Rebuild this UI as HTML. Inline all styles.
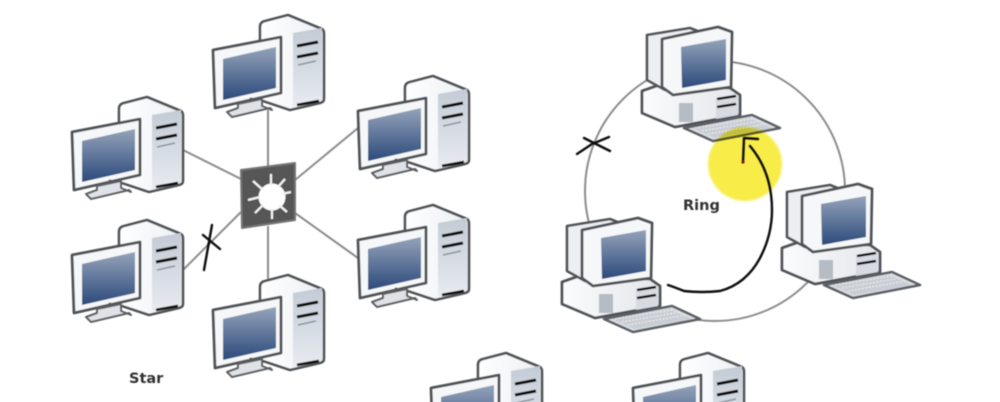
<!DOCTYPE html>
<html>
<head>
<meta charset="utf-8">
<style>
html,body{margin:0;padding:0;background:#fff;width:1000px;height:402px;overflow:hidden}
svg{display:block}
text{font-family:"DejaVu Sans",sans-serif;font-weight:bold;fill:#333}
</style>
</head>
<body>
<svg width="1000" height="402" viewBox="0 0 1000 402" xmlns="http://www.w3.org/2000/svg">
<defs>
<clipPath id="frame"><rect width="1000" height="402"/></clipPath>
<filter id="b" x="-5%" y="-5%" width="110%" height="110%"><feGaussianBlur stdDeviation="0.6"/></filter>
<filter id="b2" x="-10%" y="-10%" width="120%" height="120%"><feGaussianBlur stdDeviation="1"/></filter>
<linearGradient id="scr" x1="0" y1="0" x2="0" y2="1"><stop offset="0" stop-color="#94a3ba"/><stop offset="1" stop-color="#2c4a7b"/></linearGradient>
<linearGradient id="twr" x1="0" y1="0" x2="1" y2="0"><stop offset="0" stop-color="#ffffff"/><stop offset="1" stop-color="#eceff3"/></linearGradient>
<linearGradient id="pan" x1="0" y1="0" x2="0" y2="1"><stop offset="0" stop-color="#c3cbd6"/><stop offset="1" stop-color="#e8ebf0"/></linearGradient>
<linearGradient id="bs" x1="0" y1="0" x2="1" y2="0"><stop offset="0" stop-color="#fbfcfd"/><stop offset="1" stop-color="#e3e6eb"/></linearGradient>
<g id="tower">
 <path d="M260 27Q260 22 265 21L288 15L322 29Q324 30 324 34V99Q324 102 320 103L290 110L260 100Z" fill="url(#twr)" stroke="#505356" stroke-width="2.6" stroke-linejoin="round"/>
 <path d="M293 33L322 28V100L293 107Z" fill="url(#pan)"/>
 <path d="M297 46L318 42M297 57L318 53" stroke="#111" stroke-width="3"/>
 <path d="M298 65L316 61" stroke="#8a929c" stroke-width="1.5"/>
 <path d="M297 105L319 101" stroke="#111" stroke-width="2.8"/>
 <path d="M213 50L281 37V93L215 108Z" fill="#f6f7f8" stroke="#505356" stroke-width="2.8" stroke-linejoin="round"/>
 <path d="M223 59L276 47V88L223 100Z" fill="url(#scr)"/>
 <path d="M238 104L262 99V106L272 110L270 108L232 117L227 112L238 108Z" fill="#dfe2e6" stroke="#5c5f63" stroke-width="2" stroke-linejoin="round"/>
 <circle cx="251" cy="99" r="1.5" fill="#555"/>
</g>
<g id="desk">
 <path d="M642 91L662 84L730 88L740 95V115L675 127L642 113Z" fill="url(#bs)" stroke="#505356" stroke-width="2.8" stroke-linejoin="round"/>
 <path d="M716 99L738 95V115L716 119Z" fill="#d7dbe1"/>
 <path d="M679 103H693V122H679Z" fill="#b5bcc4"/>
 <path d="M717 99L736 96M717 107L736 104" stroke="#111" stroke-width="2.6"/>
 <path d="M647 35L690 28L700 32L700 85L665 90L647 80Z" fill="#eceef1" stroke="#505356" stroke-width="2.6" stroke-linejoin="round"/>
 <path d="M662 39L718 27L732 32L731 87L673 95L662 87Z" fill="#f6f7f8" stroke="#505356" stroke-width="2.8" stroke-linejoin="round"/>
 <path d="M681 47L726 39V80L682 88Z" fill="url(#scr)"/>
 <path d="M684 128L752 115L780 128L713 141Z" fill="#dcdfe3" stroke="#5c6066" stroke-width="2.6" stroke-linejoin="round"/>
 <path d="M692 128L750 118L772 128L714 138Z" fill="#c9ced4"/>
 <path d="M695 128L752 119M702 131L760 121M708 134L766 124" stroke="#eceef0" stroke-width="1.1" stroke-dasharray="2 1.5"/>
</g>
</defs>
<rect width="1000" height="402" fill="#fff"/>
<g clip-path="url(#frame)">
<g filter="url(#b)">
 <g fill="none" stroke="#8c8c8c" stroke-width="2">
  <path d="M268 110V170M268 226V282M183 150L241 179M183 270L241 212M295 180L358 128M295 213L358 258"/>
  <circle cx="715" cy="191" r="130"/>
 </g>
 <use href="#tower"/>
 <use href="#tower" x="-141" y="82"/>
 <use href="#tower" x="-141" y="205"/>
 <use href="#tower" x="145" y="61"/>
 <use href="#tower" x="145" y="190"/>
 <use href="#tower" x="0" y="260"/>
 <use href="#tower" x="218" y="338"/>
 <use href="#tower" x="420" y="338"/>
 <use href="#desk"/>
 <use href="#desk" x="-80" y="191"/>
 <use href="#desk" x="140" y="157"/>
 <path d="M241 170L295 163V220L242 228Z" fill="#575757" stroke="#747474" stroke-width="2" stroke-linejoin="round"/>
 <circle cx="272" cy="197" r="13.5" fill="#fff"/>
 <g stroke="#f4f4f4" stroke-width="2.2">
  <path d="M271 174V186M285 179L278 187M291 192L282 194M287 212L279 205M272 219V208M255 213L263 205M248 200L260 197M253 181L263 190"/>
 </g>
</g>
<circle cx="745" cy="164" r="37" fill="#f8ec4a" filter="url(#b2)" style="mix-blend-mode:multiply"/>
<g filter="url(#b)">
 <g fill="none" stroke="#0c0c0c" stroke-width="2.4" stroke-linecap="round" stroke-linejoin="round">
  <path d="M668 285Q674 287 684 291Q702 293 720 291Q746 284 760 258Q772 235 772 210Q772 172 750 146"/>
  <path d="M743 162L744 138L758 139"/>
  <path d="M203 235L220 249M212 225L204 270"/>
  <path d="M584 138L596 144L610 151M577 154L592 144L609 137"/>
 </g>
 <circle cx="743" cy="162" r="1.6" fill="#7a1a10"/>
 <text x="129" y="383" font-size="14.5">Star</text>
 <text x="683" y="210" font-size="14.5">Ring</text>
</g>
</g>
</svg>
</body>
</html>
